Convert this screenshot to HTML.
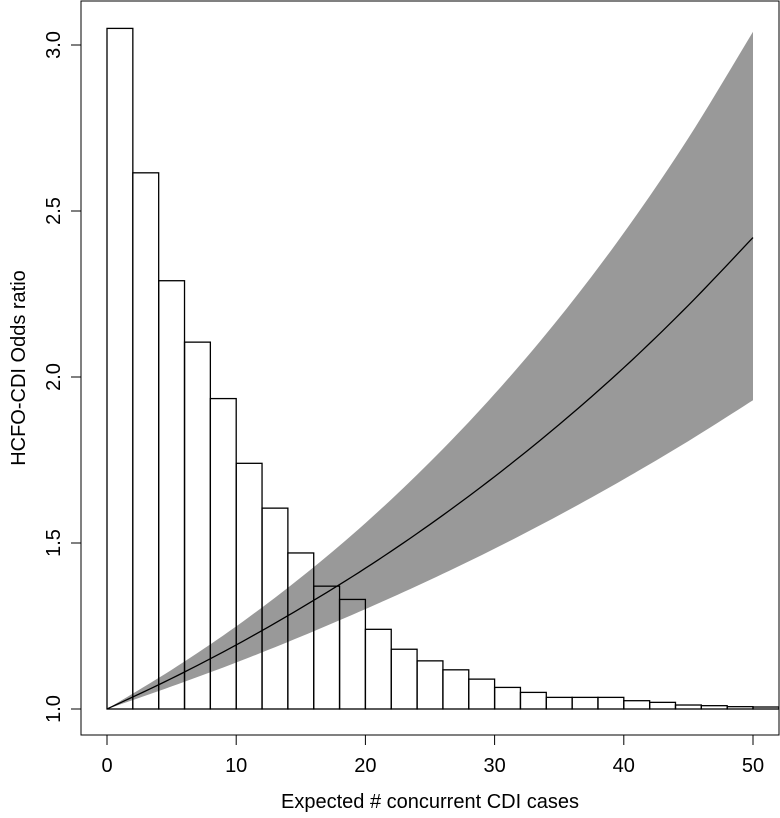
<!DOCTYPE html>
<html><head><meta charset="utf-8"><style>
body{margin:0;background:#fff}
svg{display:block;font-family:"Liberation Sans",sans-serif}
</style></head><body>
<svg width="780" height="818" id="c">
<rect x="81" y="1" width="698" height="734" fill="none" stroke="#000" stroke-width="1"/>
<g id="g"></g>
<text x="430" y="808" text-anchor="middle" font-size="20">Expected # concurrent CDI cases</text>
<text transform="translate(25,368) rotate(-90)" text-anchor="middle" font-size="20">HCFO-CDI Odds ratio</text>
</svg>
<script>
const barStarts=[0,2,4,6,8,10,12,14,16,18,20,22,24,26,28,30,32,34,36,38,40,42,44,46,48,50];
const barHeights=[3.05,2.615,2.29,2.105,1.935,1.74,1.605,1.47,1.37,1.33,1.24,1.18,1.145,1.118,1.09,1.065,1.05,1.035,1.035,1.035,1.025,1.02,1.012,1.01,1.007,1.006];
const curveX=[0,5,10,15,20,25,30,35,40,45,50];
const curveMid=[1,1.092,1.193,1.304,1.424,1.556,1.70,1.857,2.028,2.216,2.42];
const curveUpper=[1,1.118,1.249,1.396,1.560,1.744,1.949,2.178,2.434,2.720,3.04];
const curveLower=[1,1.068,1.140,1.218,1.301,1.389,1.483,1.584,1.692,1.807,1.93];
const xTicks=[0,10,20,30,40,50];
const yTicks=[1.0,1.5,2.0,2.5,3.0];
const yTickLabels=["1.0","1.5","2.0","2.5","3.0"];
const X=v=>107+v*12.92, Y=v=>709-(v-1)*332;
const NS="http://www.w3.org/2000/svg", g=document.getElementById('g');
function mk(t,a){const e=document.createElementNS(NS,t);for(const k in a)e.setAttribute(k,a[k]);g.appendChild(e);return e;}
function pts(xs,ys){const p=[];for(let i=0;i<xs.length-1;i++){for(let s=0;s<10;s++){const t=s/10;const i0=Math.max(i-1,0),i3=Math.min(i+2,xs.length-1);
const f=(a,b,c,d)=>0.5*(2*b+(-a+c)*t+(2*a-5*b+4*c-d)*t*t+(-a+3*b-3*c+d)*t*t*t);
p.push([X(f(xs[i0],xs[i],xs[i+1],xs[i3])),Y(f(ys[i0],ys[i],ys[i+1],ys[i3]))]);}}
p.push([X(xs[xs.length-1]),Y(ys[ys.length-1])]);return p;}
const up=pts(curveX,curveUpper), lo=pts(curveX,curveLower).reverse();
let band=mk('polygon',{points:up.concat(lo).map(p=>p.join(',')).join(' '),fill:'#999',stroke:'none'});


barStarts.forEach((s,i)=>{const b=mk('rect',{x:X(s),y:Y(barHeights[i]),width:X(s+2)-X(s),height:Y(1)-Y(barHeights[i]),fill:'none',stroke:'#000','stroke-width':1.3});

});
let ln=mk('polyline',{points:pts(curveX,curveMid).map(p=>p.join(',')).join(' '),fill:'none',stroke:'#000','stroke-width':1.3});


xTicks.forEach(v=>{const t=mk('line',{x1:X(v),x2:X(v),y1:735,y2:745,stroke:'#000'});


const l=mk('text',{x:X(v),y:772,'text-anchor':'middle','font-size':20});l.textContent=v;

});
yTicks.forEach((v,i)=>{const t=mk('line',{x1:71,x2:81,y1:Y(v),y2:Y(v),stroke:'#000'});


const l=mk('text',{x:0,y:0,'text-anchor':'middle','font-size':20,transform:`translate(60,${Y(v)}) rotate(-90)`});l.textContent=yTickLabels[i];

});
</script>
</body></html>
